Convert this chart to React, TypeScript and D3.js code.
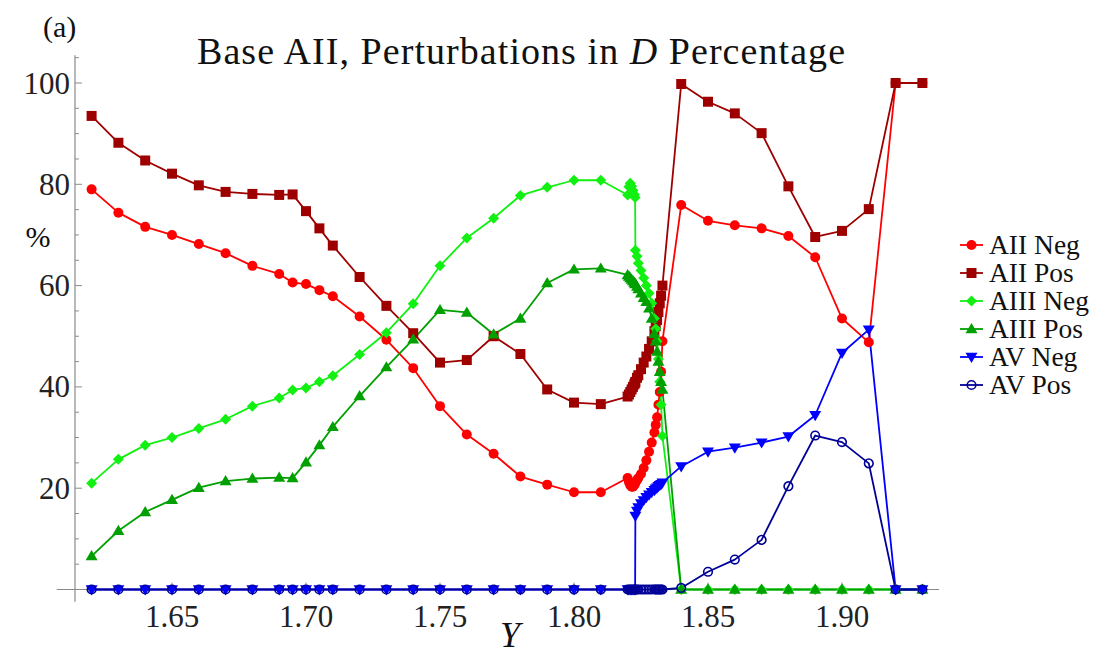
import React from "react";
import * as d3 from "d3";

// ---------- DATA ----------
const xValues = [
  1.62, 1.63, 1.64, 1.65, 1.66, 1.67, 1.68, 1.69, 1.695, 1.70, 1.705, 1.71,
  1.72, 1.73, 1.74, 1.75, 1.76, 1.77, 1.78, 1.79, 1.80, 1.81,
  1.82, 1.8205, 1.821, 1.8215, 1.822, 1.8225, 1.8228, 1.8229, 1.8235, 1.824,
  1.825, 1.826, 1.827, 1.828, 1.829, 1.830, 1.8305, 1.831, 1.8315, 1.832, 1.8325, 1.833,
  1.84, 1.85, 1.86, 1.87, 1.88, 1.89, 1.90, 1.91, 1.92, 1.93,
];

const aiiNeg = [
  79.0, 74.4, 71.6, 70.0, 68.2, 66.4, 63.9, 62.3, 60.6, 60.3, 59.1, 57.9,
  53.9, 49.3, 43.7, 36.2, 30.6, 26.8, 22.3, 20.7, 19.2, 19.2,
  22.0, 21.2, 20.6, 20.3, 20.3, 20.6, 21.0, 21.1, 21.6, 22.0,
  22.8, 24.0, 25.5, 27.2, 29.0, 31.0, 32.5, 34.0, 36.5, 39.0, 43.0, 49.0,
  75.9, 72.8, 71.9, 71.3, 69.8, 65.6, 53.5, 48.8, 100, 100,
];

const aiiPos = [
  93.5, 88.2, 84.7, 82.1, 79.8, 78.5, 78.1, 77.9, 78.0, 74.7, 71.3, 67.9,
  61.7, 56.0, 50.6, 44.8, 45.3, 50.0, 46.5, 39.5, 36.9, 36.6,
  38.1, 38.5, 39.0, 39.5, 40.0, 40.5, 40.8, 41.0, 41.8, 42.3,
  43.5, 44.8, 46.0, 47.5, 49.0, 51.0, 52.0, 53.2, 54.8, 56.5, 58.0, 60.0,
  99.8, 96.3, 94.0, 90.1, 79.6, 69.6, 70.8, 75.1, 100, 100,
];

const aiiiNeg = [
  21.0, 25.7, 28.5, 30.0, 31.8, 33.6, 36.2, 37.8, 39.4, 39.8, 41.0, 42.2,
  46.4, 50.7, 56.4, 63.9, 69.4, 73.3, 77.8, 79.4, 80.8, 80.8,
  77.9, 79.5, 80.2, 79.6, 78.8, 78.0, 77.4, 67.0, 65.8, 64.4,
  63.0, 61.5, 60.0, 58.5, 56.5, 53.5, 51.5, 49.0, 45.5, 41.0, 36.5, 30.3,
  0, 0, 0, 0, 0, 0, 0, 0, 0, 0,
];

const aiiiPos = [
  6.6, 11.6, 15.3, 17.7, 20.1, 21.4, 21.9, 22.1, 22.0, 25.1, 28.5, 32.1,
  38.2, 43.9, 49.4, 55.2, 54.7, 50.4, 53.5, 60.5, 63.2, 63.4,
  62.1, 61.8, 61.5, 61.2, 60.9, 60.6, 60.4, 60.3, 59.8, 59.3,
  58.5, 57.6, 56.8, 55.5, 53.5, 50.5, 49.0, 47.0, 45.0, 43.0, 41.0, 39.5,
  0, 0, 0, 0, 0, 0, 0, 0, 0, 0,
];

const avNeg = [
  0, 0, 0, 0, 0, 0, 0, 0, 0, 0, 0, 0,
  0, 0, 0, 0, 0, 0, 0, 0, 0, 0,
  0, 0, 0, 0, 0, 0, 0, 14.5, 15.5, 16.2,
  17.0, 17.6, 18.2, 18.7, 19.2, 19.6, 19.9, 20.1, 20.4, 20.6, 20.8, 21.1,
  24.3, 27.2, 28.0, 29.0, 30.2, 34.4, 46.7, 51.3, 0, 0,
];

const avPos = [
  0, 0, 0, 0, 0, 0, 0, 0, 0, 0, 0, 0,
  0, 0, 0, 0, 0, 0, 0, 0, 0, 0,
  0, 0, 0, 0, 0, 0, 0, 0, 0, 0,
  0, 0, 0, 0, 0, 0, 0, 0, 0, 0, 0, 0,
  0.3, 3.5, 5.9, 9.8, 20.4, 30.4, 29.1, 24.9, 0, 0,
];

const seriesNames = ["AII Neg", "AII Pos", "AIII Neg", "AIII Pos", "AV Neg", "AV Pos"];
const seriesValues = [aiiNeg, aiiPos, aiiiNeg, aiiiPos, avNeg, avPos];
const seriesColors = ["#ff0000", "#9e0000", "#11f011", "#00a000", "#0000ff", "#000099"];
const seriesShapes = ["circle", "square", "diamond", "triUp", "triDown", "openCircle"];

const xMajorTicks = [1.65, 1.70, 1.75, 1.80, 1.85, 1.90];
const yMajorTicks = [20, 40, 60, 80, 100];

const title = "Base AII, Perturbations in ";
const titleItalic = "D";
const titleEnd = " Percentage";

// ---------- COMPONENT ----------
const FONT = "Liberation Serif, Times New Roman, Times, serif";

function markerPath(shape: string, cx: number, cy: number): string {
  switch (shape) {
    case "square": {
      const s = 5;
      return `M${cx - s},${cy - s}h${2 * s}v${2 * s}h${-2 * s}Z`;
    }
    case "diamond": {
      const s = 5.5;
      return `M${cx},${cy - s}L${cx + s},${cy}L${cx},${cy + s}L${cx - s},${cy}Z`;
    }
    case "triUp": {
      const s = 6;
      return `M${cx},${cy - s}L${cx + s},${cy + s * 0.7}L${cx - s},${cy + s * 0.7}Z`;
    }
    case "triDown": {
      const s = 6;
      return `M${cx},${cy + s}L${cx + s},${cy - s * 0.7}L${cx - s},${cy - s * 0.7}Z`;
    }
    default: {
      const r = shape === "openCircle" ? 4.3 : 5;
      return `M${cx - r},${cy}a${r},${r} 0 1,0 ${2 * r},0a${r},${r} 0 1,0 ${-2 * r},0Z`;
    }
  }
}

function Marker({ shape, cx, cy, color }: { shape: string; cx: number; cy: number; color: string }) {
  const d = markerPath(shape, cx, cy);
  if (shape === "openCircle") {
    return <path d={d} fill="none" stroke={color} strokeWidth={1.6} />;
  }
  return <path d={d} fill={color} stroke="none" />;
}

export default function App() {
  const W = 1112;
  const H = 654;
  const x = d3.scaleLinear().domain([1.65, 1.9]).range([172, 842]);
  const y = d3.scaleLinear().domain([0, 100]).range([589.5, 83]);

  const axisX0 = x(1.607);
  const axisX1 = x(1.9362);
  const yAxisX = x(1.6138);
  const y0 = y(0);

  const xMinor = d3.range(162, 194).map((i) => i / 100);
  const yMinor = d3.range(5, 106, 5);

  const line = d3
    .line<[number, number]>()
    .x((d) => x(d[0]))
    .y((d) => y(d[1]));

  const axisColor = "#8a8a8a";
  const legendY = [245, 273, 301, 329, 357, 385];
  const textStyle = { fontFamily: FONT };

  return (
    <div style={{ position: "absolute", left: 0, top: 0 }}>
      <svg width={W} height={H} style={{ display: "block", background: "#fff", fontFamily: FONT }}>
        {/* axes */}
        <line x1={axisX0} x2={axisX1} y1={y0} y2={y0} stroke={axisColor} strokeWidth={1.2} />
        <line x1={yAxisX} x2={yAxisX} y1={y(-2.4)} y2={y(105.5)} stroke={axisColor} strokeWidth={1.2} />
        {xMinor.map((t, i) => {
          const major = xMajorTicks.some((m) => Math.abs(m - t) < 1e-6);
          return (
            <line key={"xt" + i} x1={x(t)} x2={x(t)} y1={y0} y2={y0 - (major ? 7 : 4)} stroke={axisColor} strokeWidth={1} />
          );
        })}
        {yMinor.map((t, i) => {
          const major = yMajorTicks.includes(t);
          return (
            <line key={"yt" + i} x1={yAxisX} x2={yAxisX + (major ? 7 : 4)} y1={y(t)} y2={y(t)} stroke={axisColor} strokeWidth={1} />
          );
        })}
        {xMajorTicks.map((t) => (
          <text key={"xl" + t} x={x(t)} y={627} textAnchor="middle" fontSize={31} fill="#222" style={textStyle}>
            {t.toFixed(2)}
          </text>
        ))}
        {yMajorTicks.map((t) => (
          <text key={"yl" + t} x={yAxisX - 5} y={y(t) + 10.5} textAnchor="end" fontSize={31} fill="#222" style={textStyle}>
            {t}
          </text>
        ))}

        {/* series lines */}
        {seriesValues.map((vals, si) => (
          <path
            key={"l" + si}
            d={line(xValues.map((xv, i) => [xv, vals[i]] as [number, number])) || ""}
            fill="none"
            stroke={seriesColors[si]}
            strokeWidth={1.8}
            strokeLinejoin="round"
          />
        ))}
        {/* markers */}
        {seriesValues.map((vals, si) => (
          <g key={"m" + si}>
            {xValues.map((xv, i) => (
              <Marker key={i} shape={seriesShapes[si]} cx={x(xv)} cy={y(vals[i])} color={seriesColors[si]} />
            ))}
          </g>
        ))}

        {/* labels */}
        <text x={43} y={37} fontSize={30} fill="#111" style={textStyle}>(a)</text>
        <text x={521} y={64} textAnchor="middle" fontSize={38} fill="#111" style={textStyle} textLength={648} lengthAdjust="spacing">
          {title}
          <tspan fontStyle="italic">{titleItalic}</tspan>
          {titleEnd}
        </text>
        <text x={38} y={247} textAnchor="middle" fontSize={30} fill="#111" style={textStyle}>%</text>
        <text x={510} y={647} textAnchor="middle" fontSize={36} fontStyle="italic" fill="#111" style={textStyle}>Y</text>

        {/* legend */}
        {seriesNames.map((name, si) => (
          <g key={"lg" + si}>
            <line x1={960} x2={983} y1={legendY[si]} y2={legendY[si]} stroke={seriesColors[si]} strokeWidth={1.8} />
            <Marker shape={seriesShapes[si]} cx={971.5} cy={legendY[si]} color={seriesColors[si]} />
            <text x={989} y={legendY[si] + 9} fontSize={27.5} fill="#111" style={textStyle}>{name}</text>
          </g>
        ))}
      </svg>
    </div>
  );
}
